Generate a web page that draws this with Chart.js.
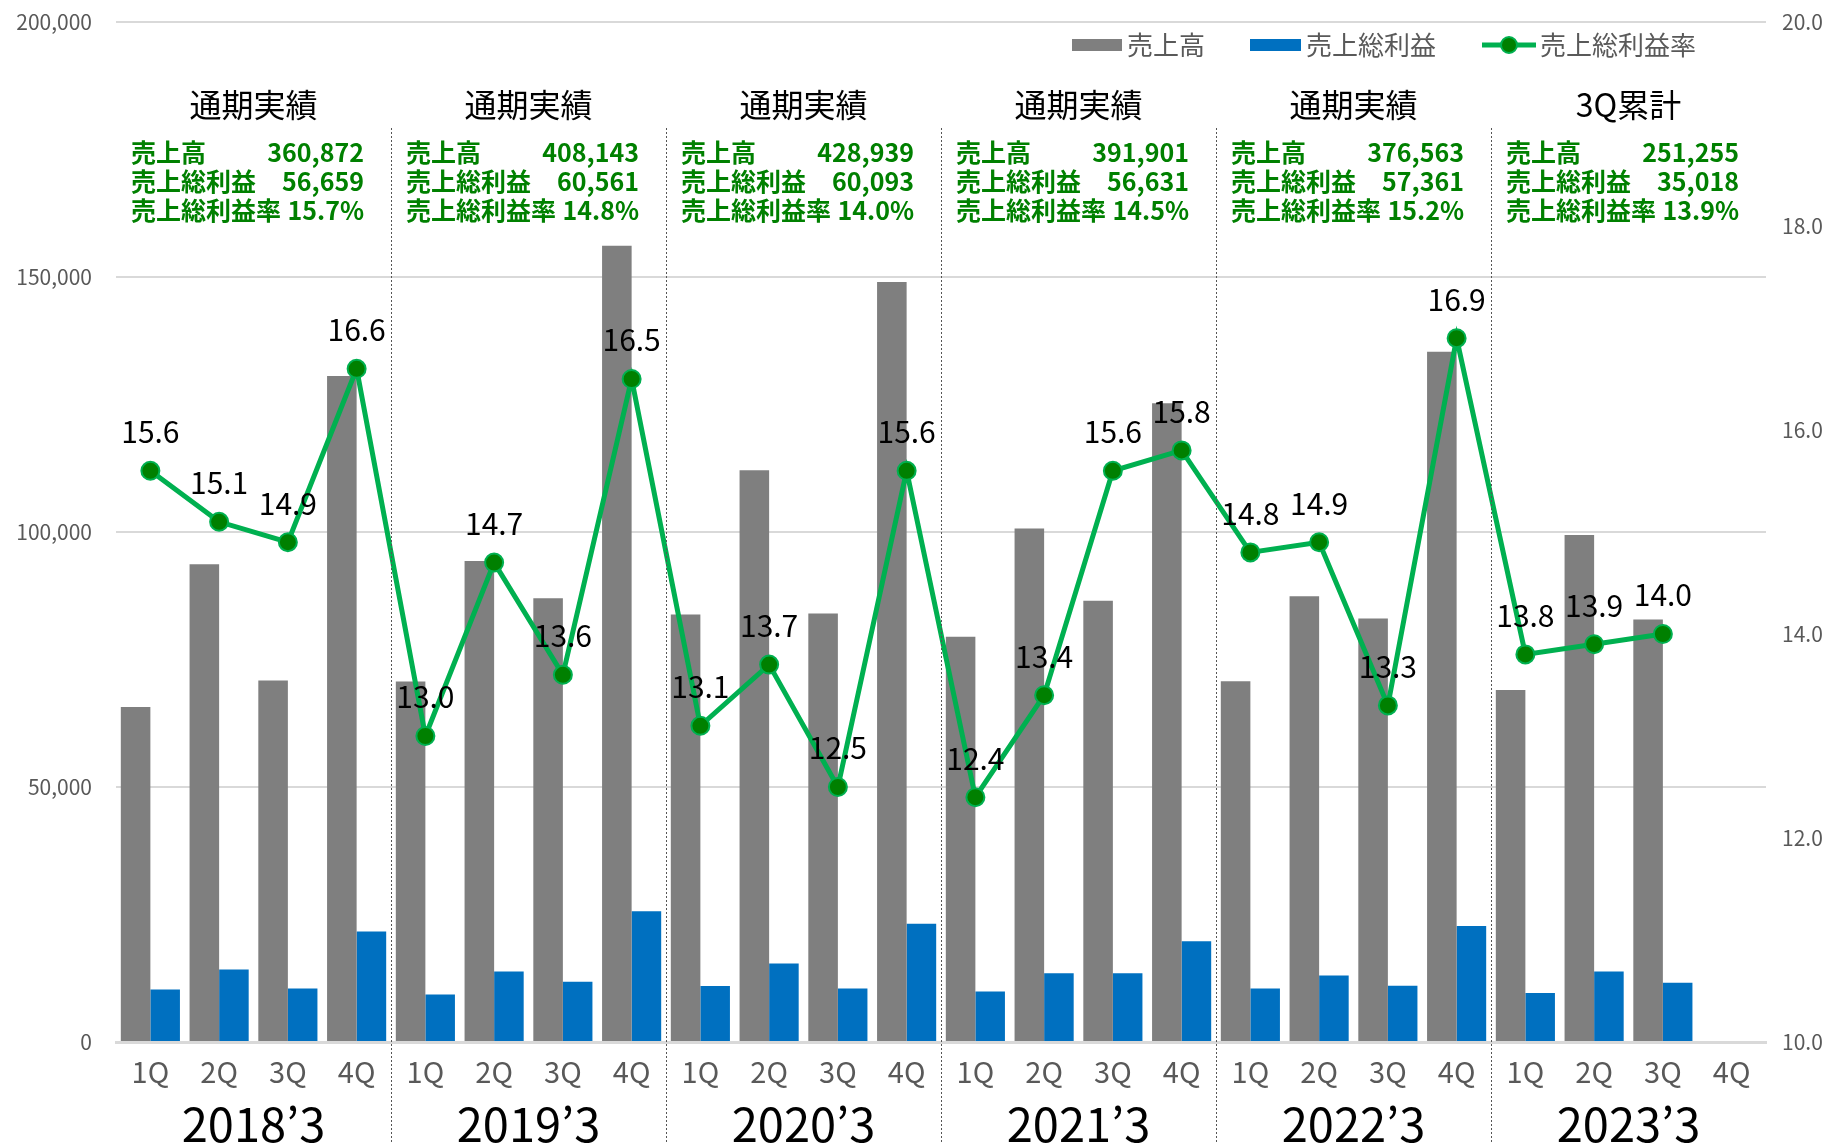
<!DOCTYPE html>
<html lang="ja">
<head>
<meta charset="utf-8">
<title>売上高・売上総利益・売上総利益率</title>
<script src="https://cdn.jsdelivr.net/npm/chart.js@4.4.1/dist/chart.umd.min.js"></script>
<style>
    html, body { margin: 0; padding: 0; background: #fff; }
    #wrap { width: 1827px; height: 1143px; }
</style>
</head>
<body>
<div id="wrap"><canvas id="salesChart" width="1827" height="1143"></canvas></div>
<script>
// 四半期ラベル
const quarters = [
    '1Q', '2Q', '3Q', '4Q', '1Q', '2Q', '3Q', '4Q', '1Q', '2Q', '3Q', '4Q',
    '1Q', '2Q', '3Q', '4Q', '1Q', '2Q', '3Q', '4Q', '1Q', '2Q', '3Q', '4Q'
];
const years = ['2018’3', '2019’3', '2020’3', '2021’3', '2022’3', '2023’3'];

// 売上高（百万円）
const sales = [
    65700, 93700, 70900, 130572,
    70700, 94300, 87000, 156143,
    83800, 112100, 84000, 149039,
    79450, 100680, 86530, 125241,
    70750, 87400, 83050, 135363,
    69000, 99400, 82855, null
];
// 売上総利益
const grossProfit = [
    10300, 14200, 10500, 21659,
    9300, 13800, 11800, 25661,
    11000, 15400, 10500, 23193,
    9900, 13500, 13500, 19731,
    10500, 13050, 11050, 22761,
    9600, 13800, 11618, null
];
// 売上総利益率（%）
const grossMargin = [
    15.6, 15.1, 14.9, 16.6,
    13.0, 14.7, 13.6, 16.5,
    13.1, 13.7, 12.5, 15.6,
    12.4, 13.4, 15.6, 15.8,
    14.8, 14.9, 13.3, 16.9,
    13.8, 13.9, 14.0, null
];

// 年度ごとの集計
const periodTitles = ['通期実績', '通期実績', '通期実績', '通期実績', '通期実績', '3Q累計'];
const totalSales = [360872, 408143, 428939, 391901, 376563, 251255];
const totalGross = [56659, 60561, 60093, 56631, 57361, 35018];
const totalMargin = [15.7, 14.8, 14.0, 14.5, 15.2, 13.9];

const leftTicks = [0, 50000, 100000, 150000, 200000];
const rightTicks = [10, 12, 14, 16, 18, 20];

const FONT = "'Noto Sans CJK JP', 'Noto Sans', sans-serif";

// 注釈・凡例を描くプラグイン
const overlayPlugin = {
    id: 'overlay',
    afterDatasetsDraw(chart) {
        const ctx = chart.ctx;
        const x = chart.scales.x;
        const step = x.getPixelForValue(1) - x.getPixelForValue(0);

        // 年度の区切り線
        ctx.save();
        ctx.strokeStyle = '#555';
        ctx.lineWidth = 1;
        ctx.setLineDash([2, 2]);
        for (let g = 1; g < years.length; g++) {
            const px = Math.round(x.getPixelForValue(g * 4) - step / 2) + 0.5;
            ctx.beginPath();
            ctx.moveTo(px, 128);
            ctx.lineTo(px, chart.height);
            ctx.stroke();
        }
        ctx.restore();

        // 率のラベル
        ctx.save();
        ctx.fillStyle = '#000';
        ctx.font = '30px ' + FONT;
        ctx.textAlign = 'center';
        ctx.textBaseline = 'middle';
        const meta = chart.getDatasetMeta(2);
        meta.data.forEach((pt, i) => {
            if (grossMargin[i] == null) return;
            ctx.fillText(grossMargin[i].toFixed(1), pt.x, pt.y - 39);
        });
        ctx.restore();

        // 年度ヘッダーと集計
        ctx.save();
        years.forEach((yr, g) => {
            const left = x.getPixelForValue(g * 4) - step / 2;
            const right = left + step * 4;
            const center = (left + right) / 2;

            ctx.fillStyle = '#000';
            ctx.font = '32px ' + FONT;
            ctx.textAlign = 'center';
            ctx.textBaseline = 'middle';
            ctx.fillText(periodTitles[g], center, 105);

            ctx.font = '47px ' + FONT;
            ctx.fillText(yr, center, 1124);

            ctx.fillStyle = '#008000';
            ctx.font = 'bold 25px ' + FONT;
            const rows = [
                ['売上高', totalSales[g].toLocaleString('en-US')],
                ['売上総利益', totalGross[g].toLocaleString('en-US')],
                ['売上総利益率', totalMargin[g].toFixed(1) + '%']
            ];
            rows.forEach((r, k) => {
                const ty = 152 + k * 29;
                ctx.textAlign = 'left';
                ctx.fillText(r[0], left + 15, ty);
                ctx.textAlign = 'right';
                ctx.fillText(r[1], right - 27, ty);
            });
        });
        ctx.restore();

        // 凡例
        ctx.save();
        ctx.font = '26px ' + FONT;
        ctx.textBaseline = 'middle';
        const ly = 45;
        const ds = chart.data.datasets;
        ctx.fillStyle = ds[0].backgroundColor;
        ctx.fillRect(1072, ly - 6, 50, 12);
        ctx.fillStyle = '#595959';
        ctx.fillText(ds[0].label, 1127, ly);
        ctx.fillStyle = ds[1].backgroundColor;
        ctx.fillRect(1250, ly - 6, 51, 12);
        ctx.fillStyle = '#595959';
        ctx.fillText(ds[1].label, 1306, ly);
        ctx.strokeStyle = ds[2].borderColor;
        ctx.lineWidth = 5;
        ctx.beginPath();
        ctx.moveTo(1482, ly);
        ctx.lineTo(1536, ly);
        ctx.stroke();
        ctx.beginPath();
        ctx.arc(1509, ly, 8, 0, Math.PI * 2);
        ctx.fillStyle = ds[2].pointBackgroundColor;
        ctx.fill();
        ctx.lineWidth = 2;
        ctx.stroke();
        ctx.fillStyle = '#595959';
        ctx.fillText(ds[2].label, 1540, ly);
        ctx.restore();
    }
};

const chart = new Chart(document.getElementById('salesChart').getContext('2d'), {
    type: 'bar',
    data: {
        labels: quarters,
        datasets: [
            {
                label: '売上高',
                data: sales,
                backgroundColor: '#7f7f7f',
                yAxisID: 'y',
                order: 2,
                categoryPercentage: 0.86,
                barPercentage: 1.0
            },
            {
                label: '売上総利益',
                data: grossProfit,
                backgroundColor: '#0070c0',
                yAxisID: 'y',
                order: 2,
                categoryPercentage: 0.86,
                barPercentage: 1.0
            },
            {
                type: 'line',
                label: '売上総利益率',
                data: grossMargin,
                yAxisID: 'y1',
                borderColor: '#00b050',
                borderWidth: 5,
                pointRadius: 9,
                pointBackgroundColor: '#008000',
                pointBorderColor: '#00b050',
                pointBorderWidth: 2,
                tension: 0,
                spanGaps: false,
                order: 0
            }
        ]
    },
    options: {
        responsive: false,
        animation: false,
        devicePixelRatio: 1,
        layout: { padding: { top: 22, left: 0, right: 0, bottom: 0 } },
        plugins: {
            legend: { display: false },
            tooltip: { enabled: false }
        },
        scales: {
            x: {
                grid: { display: false, drawTicks: false },
                border: { display: true, color: '#d9d9d9', width: 3 },
                ticks: {
                    color: '#595959',
                    font: { family: FONT, size: 29 },
                    padding: 13,
                    maxRotation: 0,
                    autoSkip: false
                },
                afterFit(scale) { scale.height = 101; }
            },
            y: {
                position: 'left',
                min: leftTicks[0],
                max: leftTicks[leftTicks.length - 1],
                afterBuildTicks(scale) { scale.ticks = leftTicks.map(v => ({ value: v })); },
                grid: { color: '#d9d9d9', lineWidth: 2, drawTicks: false },
                border: { display: false },
                ticks: {
                    color: '#595959',
                    font: { family: FONT, size: 21 },
                    padding: 24,
                    callback: v => v.toLocaleString('en-US')
                },
                afterFit(scale) {
                    scale.width = 116;
                    scale.paddingTop = 0;
                    scale.paddingBottom = 0;
                }
            },
            y1: {
                position: 'right',
                min: rightTicks[0],
                max: rightTicks[rightTicks.length - 1],
                afterBuildTicks(scale) { scale.ticks = rightTicks.map(v => ({ value: v })); },
                grid: { display: false, drawTicks: false },
                border: { display: false },
                ticks: {
                    color: '#595959',
                    font: { family: FONT, size: 21 },
                    padding: 16,
                    callback: v => Number(v).toFixed(1)
                },
                afterFit(scale) {
                    scale.width = 61;
                    scale.paddingTop = 0;
                    scale.paddingBottom = 0;
                }
            }
        }
    },
    plugins: [overlayPlugin]
});
</script>
</body>
</html>
